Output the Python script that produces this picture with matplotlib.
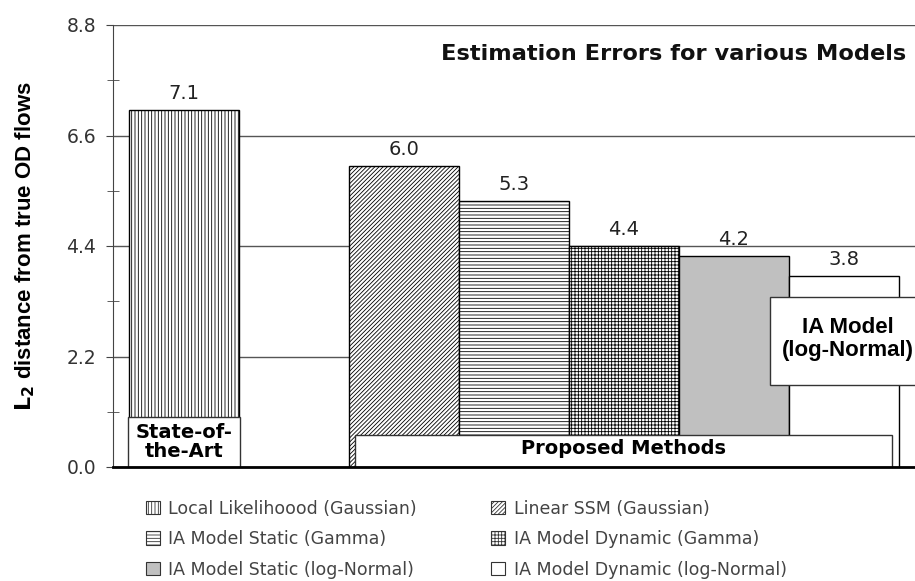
import matplotlib
matplotlib.use("Agg")
import matplotlib.pyplot as plt
from matplotlib.patches import Rectangle, Patch
from matplotlib.ticker import MultipleLocator

plt.rcParams['hatch.linewidth'] = 0.6

models = ["Local Likelihoood (Gaussian)", "Linear SSM (Gaussian)",
          "IA Model Static (Gamma)", "IA Model Dynamic (Gamma)",
          "IA Model Static (log-Normal)", "IA Model Dynamic (log-Normal)"]
values = [7.1, 6.0, 5.3, 4.4, 4.2, 3.8]
positions = [0, 2, 3, 4, 5, 6]
hatches = ["|||||", "////////", "-----", "+++++", "", ""]
faces = ["white", "white", "white", "white", "#c0c0c0", "white"]
yticks = [0.0, 2.2, 4.4, 6.6, 8.8]

fig = plt.figure(figsize=(9.15, 5.81), dpi=100)
ax = fig.add_axes([113/915, 114/581, 1 - 113/915, 442/581])

bars = []
for x, v, h, fc in zip(positions, values, hatches, faces):
    b = ax.bar(x, v, width=1.0, facecolor=fc, edgecolor="black", hatch=h,
               linewidth=1.0, zorder=3)
    bars.append(b[0])
    ax.text(x, v + 0.14, f"{v:.1f}", ha="center", va="bottom",
            fontsize=14, color="#222222", family="DejaVu Sans", zorder=5)

ax.set_xlim(-0.645, 6.645)
ax.set_ylim(0, 8.8)
ax.set_yticks(yticks)
ax.set_yticklabels([f"{t:.1f}" for t in yticks], fontsize=13.5, color="#333333")
ax.yaxis.set_minor_locator(MultipleLocator(1.1))
ax.tick_params(axis="y", which="major", direction="out", length=5, color="#444444", pad=7)
ax.tick_params(axis="y", which="minor", direction="inout", length=9, color="#444444")
ax.set_xticks([])
ax.grid(axis="y", which="major", color="#555555", linewidth=1.0, zorder=0)
ax.set_axisbelow(True)
for s in ["top", "right"]:
    ax.spines[s].set_visible(False)
ax.spines["left"].set_color("#444444")
ax.spines["bottom"].set_color("black")
ax.spines["bottom"].set_linewidth(2.0)
ax.spines["bottom"].set_zorder(6)

ax.set_ylabel(r"$\mathbf{L_2}$ distance from true OD flows", fontsize=16,
              fontweight="bold", family="Liberation Sans")
ax.yaxis.set_label_coords(-0.095, 0.5)

ax.text(0.989, 0.935, "Estimation Errors for various Models", transform=ax.transAxes,
        ha="right", va="center", fontsize=16.2, fontweight="bold", color="#111111")

# annotation boxes
b0 = bars[0]
ax.add_patch(Rectangle((b0.get_x() - 0.01, 0), b0.get_width() + 0.02, 1.0,
                       facecolor="white", edgecolor="#333333", lw=1, zorder=4))
ax.text(positions[0], 0.5, "State-of-\nthe-Art", ha="center", va="center",
        fontsize=14, fontweight="bold", linespacing=1.0, zorder=5)

ax.add_patch(Rectangle((1.555, 0), 6.436 - 1.555, 0.64,
                       facecolor="white", edgecolor="#333333", lw=1, zorder=4))
ax.text((1.555 + 6.436) / 2, 0.36, "Proposed Methods", ha="center", va="center",
        fontsize=14, fontweight="bold", zorder=5)

ax.add_patch(Rectangle((5.33, 1.63), 2.0, 3.39 - 1.63, facecolor="white",
                       edgecolor="#333333", lw=1, zorder=4, clip_on=False))
ax.text(6.036, 2.55, "IA Model\n(log-Normal)", ha="center", va="center",
        fontsize=16, fontweight="bold", family="Liberation Sans", linespacing=1.1,
        zorder=5, clip_on=False)

order = [0, 2, 4, 1, 3, 5]
handles = [Patch(facecolor=faces[i], edgecolor="#333333", hatch=hatches[i], lw=0.8) for i in order]
labels = [models[i] for i in order]
leg = fig.legend(handles, labels, ncol=2, loc="upper left",
                 bbox_to_anchor=(130/915, 1 - 484/581), frameon=False,
                 fontsize=12.5, handlelength=0.8, handleheight=0.8, handletextpad=0.5,
                 labelspacing=0.72, columnspacing=4.3, labelcolor="#444444")

fig.savefig("out.png", dpi=100)
